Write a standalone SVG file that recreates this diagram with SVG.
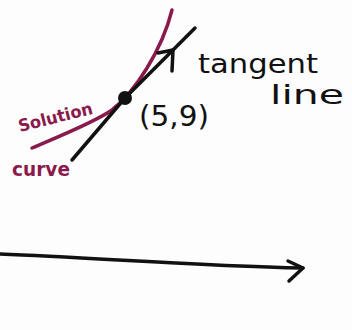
<svg xmlns="http://www.w3.org/2000/svg" width="352" height="330" viewBox="0 0 352 330">
<style>
.ink{fill:none;stroke:#111;stroke-width:3.5;stroke-linecap:round;stroke-linejoin:round}
.sol{fill:none;stroke:#8a1a4c;stroke-width:3.5;stroke-linecap:round}
.hand{font-family:"DejaVu Sans",sans-serif;fill:#111}
.magenta{fill:#8a1a4c;font-family:"DejaVu Sans",sans-serif;font-weight:bold}
</style>
<rect width="352" height="330" fill="#fdfdfd"/>
<g id="solution-curve">
<path class="sol" d="M32,148 C60,136 95,122 112,110 C135,92 162,50 172,10"/>
<text class="magenta" font-size="17" textLength="76" lengthAdjust="spacingAndGlyphs" transform="translate(20,132) rotate(-14)">Solution</text>
<text class="magenta" font-size="20" textLength="58" lengthAdjust="spacingAndGlyphs" x="12" y="176">curve</text>
</g>
<g id="connectors">
<path class="ink" d="M72,160 L125,98 L195,28"/>
<path class="ink" d="M158,53 L173,50 L172,71"/>
<path class="ink" d="M0,254 C100,258 200,266 303,268"/>
<path class="ink" d="M288,261 L303,268 L289,281"/>
</g>
<g id="point">
<circle cx="125" cy="98" r="7" fill="#111"/>
<text class="hand" font-size="28" textLength="70" lengthAdjust="spacingAndGlyphs" x="139" y="126">(5,9)</text>
</g>
<g id="tangent-label">
<text class="hand" font-size="26" textLength="120" lengthAdjust="spacingAndGlyphs" x="198" y="73">tangent</text>
<text class="hand" font-size="26" textLength="74" lengthAdjust="spacingAndGlyphs" x="270" y="104">line</text>
</g>
</svg>
